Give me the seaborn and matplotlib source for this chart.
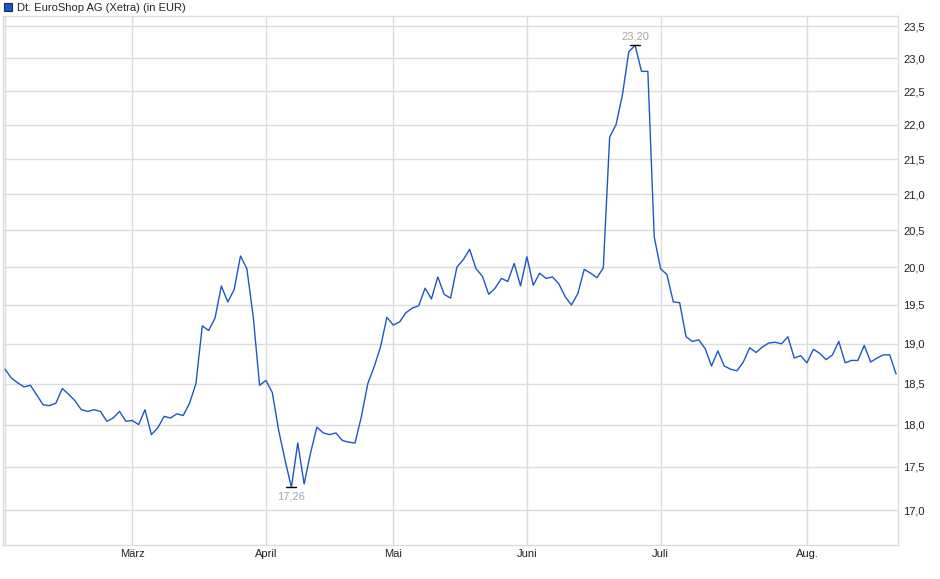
import numpy as np
import pandas as pd
import matplotlib
matplotlib.use("Agg")
import matplotlib.pyplot as plt
import seaborn as sns
from matplotlib.ticker import FixedLocator, NullLocator
from matplotlib.patches import Patch

sns.set_theme(style="white")
plt.rcParams['font.family'] = ['Liberation Sans', 'DejaVu Sans']

titel = "Dt. EuroShop AG (Xetra) (in EUR)"

# Schlusskurse (Handelstage, gleichmaessig)
kurse = [
    18.68, 18.57, 18.51, 18.46, 18.48, 18.36, 18.24, 18.23, 18.26, 18.44,
    18.37, 18.29, 18.18, 18.16, 18.18, 18.16, 18.04, 18.08, 18.16, 18.04,
    18.05, 18.00, 18.18, 17.88, 17.96, 18.10, 18.08, 18.13, 18.11, 18.26,
    18.50, 19.23, 19.17, 19.33, 19.75, 19.54, 19.70, 20.15, 19.98, 19.35,
    18.48, 18.54, 18.39, 17.93, 17.58, 17.26, 17.78, 17.30, 17.66, 17.97,
    17.90, 17.88, 17.90, 17.81, 17.79, 17.78, 18.10, 18.50, 18.71, 18.96,
    19.34, 19.24, 19.28, 19.40, 19.46, 19.49, 19.72, 19.58, 19.87, 19.64,
    19.59, 20.00, 20.10, 20.24, 19.98, 19.88, 19.64, 19.72, 19.85, 19.81,
    20.05, 19.75, 20.14, 19.76, 19.92, 19.85, 19.87, 19.78, 19.61, 19.50,
    19.65, 19.97, 19.92, 19.86, 19.99, 21.82, 22.00, 22.44, 23.10, 23.20,
    22.80, 22.80, 20.41, 19.98, 19.90, 19.54, 19.53, 19.09, 19.03, 19.05,
    18.94, 18.72, 18.91, 18.72, 18.68, 18.66, 18.77, 18.95, 18.89, 18.96,
    19.01, 19.02, 19.00, 19.09, 18.82, 18.85, 18.76, 18.93, 18.88, 18.80,
    18.86, 19.03, 18.76, 18.79, 18.79, 18.98, 18.77, 18.82, 18.86, 18.86,
    18.62,
]

# Monatsanfaenge (Index des Handelstags)
monat_pos = [0, 20, 41, 61, 82, 103, 126]
monat_labels = ["", "März", "April", "Mai", "Juni", "Juli", "Aug."]

y_ticks = [17.0, 17.5, 18.0, 18.5, 19.0, 19.5, 20.0, 20.5, 21.0, 21.5, 22.0, 22.5, 23.0, 23.5]

df = pd.DataFrame({"tag": np.arange(len(kurse)), "kurs": kurse})

fig = plt.figure(figsize=(9.4, 5.79), dpi=100)
ax = fig.add_axes([3 / 940, 34 / 579, 895 / 940, 529 / 579])

grid_col = "#dcdcdc"
sns.lineplot(data=df, x="tag", y="kurs", ax=ax, color="#1c58c4", linewidth=1.0)

ax.set_yscale("log")
ax.set_ylim(16.607, 23.66)
ax.set_xlim(-0.31, 140.3)

ax.yaxis.set_major_locator(FixedLocator(y_ticks))
ax.yaxis.set_minor_locator(NullLocator())
ax.set_yticklabels([f"{v:.1f}".replace(".", ",") for v in y_ticks])
ax.yaxis.tick_right()
ax.tick_params(axis="y", length=0, pad=4, labelsize=8, colors="#222222")

ax.xaxis.set_major_locator(FixedLocator(monat_pos))
ax.xaxis.set_minor_locator(NullLocator())
ax.set_xticklabels(monat_labels)
ax.tick_params(axis="x", length=3, width=1, color=grid_col, pad=0, labelsize=8, labelcolor="#222222")

ax.grid(True, color=grid_col, linewidth=1)
ax.set_axisbelow(True)
for s in ax.spines.values():
    s.set_color(grid_col)
    s.set_linewidth(1)
ax.set_xlabel("")
ax.set_ylabel("")

# Hoch / Tief markieren
arr = np.array(kurse)
i_max, i_min = int(arr.argmax()), int(arr.argmin())
ax.plot([i_max - 0.8, i_max + 0.8], [arr[i_max]] * 2, color="black", linewidth=1)
ax.plot([i_min - 0.8, i_min + 0.8], [arr[i_min]] * 2, color="black", linewidth=1)
ax.annotate(f"{arr[i_max]:.2f}".replace(".", ","), (i_max, arr[i_max]), xytext=(0, 3),
            textcoords="offset points", ha="center", va="bottom", fontsize=8, color="#a8a49c")
ax.annotate(f"{arr[i_min]:.2f}".replace(".", ","), (i_min, arr[i_min]), xytext=(0, -3),
            textcoords="offset points", ha="center", va="top", fontsize=8, color="#9ca4b4")

fig.legend(handles=[Patch(facecolor="#1c58c4", edgecolor="#1a2a50", linewidth=0.8, label=titel)],
           loc="upper left", bbox_to_anchor=(-0.004, 1.008), frameon=False, fontsize=8,
           handlelength=0.75, handleheight=0.75, handletextpad=0.4, borderpad=0.2)

fig.savefig("out.png", dpi=100)
plt.close(fig)
